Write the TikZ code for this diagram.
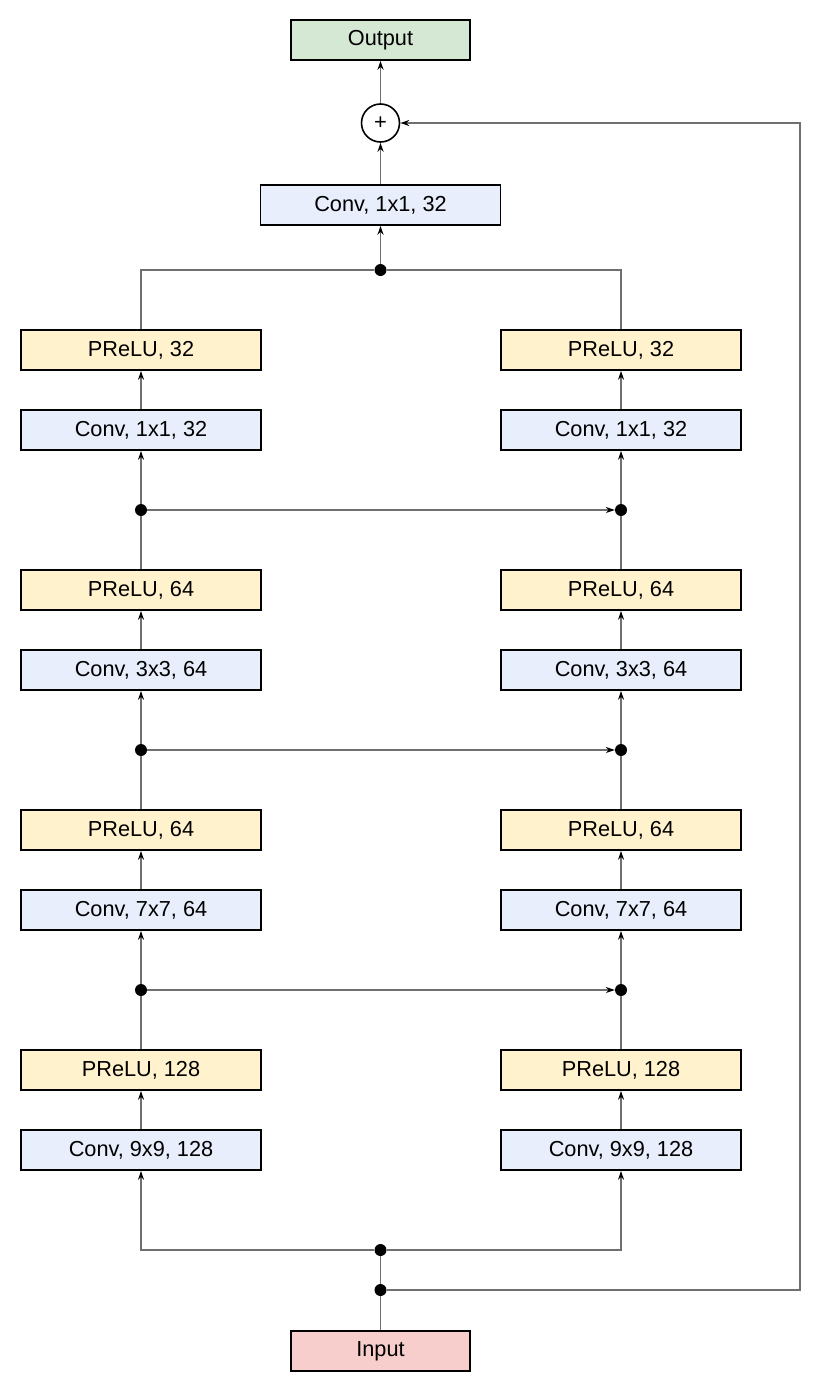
\documentclass[tikz,border=0pt]{standalone}
\usepackage{fontspec}
\setmainfont{Liberation Sans}
\usepackage{xcolor}
\usetikzlibrary{arrows.meta,shapes}
\definecolor{convblue}{HTML}{E8EEFB}
\definecolor{reluyellow}{HTML}{FFF2CC}
\definecolor{outgreen}{HTML}{D5E8D4}
\definecolor{inred}{HTML}{F8CECC}
\definecolor{wire}{HTML}{6F6F6F}
\tikzset{
  box/.style={draw,line width=1.6bp,minimum width=240bp,minimum height=40bp,inner sep=0pt,font=\fontsize{21.8}{25}\selectfont},
  conv/.style={box,fill=convblue},
  relu/.style={box,fill=reluyellow},
  io/.style={box,minimum width=179bp},
  dot/.style={circle,fill=black,inner sep=0pt,minimum size=12bp},
  wire/.style={draw=wire,line width=1.3bp},
  arr/.style={wire,-{Stealth[length=9bp,width=6bp,color=black]}}
}
\begin{document}
\begin{tikzpicture}
\useasboundingbox (0bp,0bp) rectangle (834bp,-1392bp);

\node (out) at (380.5bp,-40bp)[io,fill=outgreen] {Output};
\node (add) at (380.5bp,-123bp)[draw,circle,line width=1.6bp,minimum size=38bp,inner sep=0pt,font=\fontsize{22}{24}\selectfont] {+};
\node (ctop) at (380.5bp,-205bp)[conv] {Conv, 1x1, 32};
\node (jtop) at (380.5bp,-270bp)[dot] {};

\node (p32l) at (141bp,-350bp)[relu] {PReLU, 32};
\node (c32l) at (141bp,-430bp)[conv] {Conv, 1x1, 32};
\node (j3l) at (141bp,-510bp)[dot] {};
\node (p64al) at (141bp,-590bp)[relu] {PReLU, 64};
\node (c3l) at (141bp,-670bp)[conv] {Conv, 3x3, 64};
\node (j2l) at (141bp,-750bp)[dot] {};
\node (p64bl) at (141bp,-830bp)[relu] {PReLU, 64};
\node (c7l) at (141bp,-910bp)[conv] {Conv, 7x7, 64};
\node (j1l) at (141bp,-990bp)[dot] {};
\node (p128l) at (141bp,-1070bp)[relu] {PReLU, 128};
\node (c9l) at (141bp,-1150bp)[conv] {Conv, 9x9, 128};

\node (p32r) at (621bp,-350bp)[relu] {PReLU, 32};
\node (c32r) at (621bp,-430bp)[conv] {Conv, 1x1, 32};
\node (j3r) at (621bp,-510bp)[dot] {};
\node (p64ar) at (621bp,-590bp)[relu] {PReLU, 64};
\node (c3r) at (621bp,-670bp)[conv] {Conv, 3x3, 64};
\node (j2r) at (621bp,-750bp)[dot] {};
\node (p64br) at (621bp,-830bp)[relu] {PReLU, 64};
\node (c7r) at (621bp,-910bp)[conv] {Conv, 7x7, 64};
\node (j1r) at (621bp,-990bp)[dot] {};
\node (p128r) at (621bp,-1070bp)[relu] {PReLU, 128};
\node (c9r) at (621bp,-1150bp)[conv] {Conv, 9x9, 128};

\node (jsplit) at (380.5bp,-1250bp)[dot] {};
\node (jskip) at (380.5bp,-1290bp)[dot] {};
\node (in) at (380.5bp,-1351bp)[io,fill=inred] {Input};
\coordinate (skipbot) at (800bp,-1290bp);
\coordinate (skiptop) at (800bp,-123bp);

% input and skip
\draw [wire] (in) -- (jskip) -- (jsplit);
\draw [arr] (jskip) -- (skipbot) -- (skiptop) -- (add);
\draw [arr] (jsplit) -| (c9l);
\draw [arr] (jsplit) -| (c9r);

% both columns
\foreach \s in {l,r} {
  \draw [arr] (c9\s) -- (p128\s);
  \draw [wire] (p128\s) -- (j1\s);
  \draw [arr] (j1\s) -- (c7\s);
  \draw [arr] (c7\s) -- (p64b\s);
  \draw [wire] (p64b\s) -- (j2\s);
  \draw [arr] (j2\s) -- (c3\s);
  \draw [arr] (c3\s) -- (p64a\s);
  \draw [wire] (p64a\s) -- (j3\s);
  \draw [arr] (j3\s) -- (c32\s);
  \draw [arr] (c32\s) -- (p32\s);
  \draw [wire] (p32\s) |- (jtop);
}
\draw [arr] (j1l) -- (j1r);
\draw [arr] (j2l) -- (j2r);
\draw [arr] (j3l) -- (j3r);

% head
\draw [arr] (jtop) -- (ctop);
\draw [arr] (ctop) -- (add);
\draw [arr] (add) -- (out);
\end{tikzpicture}
\end{document}
